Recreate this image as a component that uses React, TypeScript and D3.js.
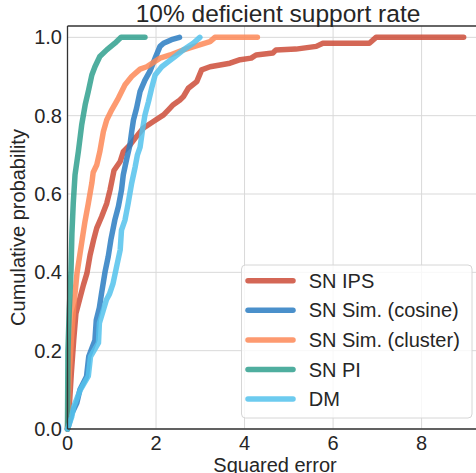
import * as d3 from "d3";

// ECDF points: squared error (x) and cumulative probability (p)
const ipsX = [0, 0.04, 0.086, 0.14, 0.19, 0.29, 0.36, 0.44, 0.51, 0.59, 0.66, 0.77, 0.886, 0.96, 1.05, 1.19, 1.26, 1.41, 1.56, 1.71, 1.94, 2.17, 2.28, 2.39, 2.54, 2.62, 2.73, 2.92, 3.03, 3.22, 3.67, 3.9, 4.15, 4.26, 4.64, 4.71, 5.16, 5.62, 5.77, 6.82, 6.97, 8.95];
const ipsP = [0, 0.057, 0.142, 0.227, 0.295, 0.338, 0.368, 0.398, 0.444, 0.483, 0.513, 0.542, 0.576, 0.61, 0.66, 0.683, 0.708, 0.725, 0.747, 0.768, 0.785, 0.802, 0.815, 0.828, 0.84, 0.849, 0.87, 0.887, 0.917, 0.925, 0.934, 0.943, 0.947, 0.955, 0.96, 0.968, 0.97, 0.977, 0.985, 0.985, 1.0, 1.0];

const cosineX = [0, 0.02, 0.1, 0.21, 0.28, 0.43, 0.48, 0.62, 0.65, 0.72, 0.77, 0.85, 0.92, 0.98, 1.07, 1.15, 1.22, 1.26, 1.34, 1.41, 1.45, 1.49, 1.56, 1.64, 1.75, 1.86, 1.98, 2.09, 2.17, 2.35, 2.53];
const cosineP = [0, 0.006, 0.04, 0.066, 0.1, 0.134, 0.185, 0.227, 0.278, 0.31, 0.347, 0.402, 0.44, 0.483, 0.534, 0.568, 0.61, 0.649, 0.691, 0.725, 0.759, 0.789, 0.819, 0.862, 0.891, 0.913, 0.947, 0.977, 0.985, 0.994, 1.0];

const clusterX = [0, 0.04, 0.086, 0.14, 0.215, 0.33, 0.395, 0.47, 0.55, 0.58, 0.66, 0.73, 0.81, 0.886, 1.0, 1.15, 1.3, 1.45, 1.64, 1.79, 2.09, 2.32, 2.62, 3.22, 3.33, 4.29];
const clusterP = [0, 0.142, 0.227, 0.312, 0.398, 0.483, 0.53, 0.576, 0.628, 0.655, 0.674, 0.708, 0.759, 0.789, 0.815, 0.845, 0.879, 0.9, 0.919, 0.925, 0.947, 0.955, 0.968, 0.989, 1.0, 1.0];

const piX = [0, 0.01, 0.04, 0.08, 0.1, 0.13, 0.17, 0.245, 0.32, 0.4, 0.47, 0.55, 0.62, 0.73, 0.886, 1.07, 1.21, 1.75];
const piP = [0, 0.2, 0.304, 0.406, 0.5, 0.576, 0.649, 0.708, 0.776, 0.828, 0.862, 0.904, 0.925, 0.951, 0.968, 0.985, 1.0, 1.0];

const dmX = [0, 0.02, 0.095, 0.14, 0.29, 0.47, 0.52, 0.7, 0.72, 0.88, 0.95, 1.03, 1.11, 1.19, 1.22, 1.3, 1.37, 1.45, 1.53, 1.58, 1.64, 1.7, 1.75, 1.83, 1.9, 1.98, 2.13, 2.28, 2.43, 2.62, 2.84, 2.99];
const dmP = [0, 0.006, 0.031, 0.057, 0.1, 0.135, 0.185, 0.22, 0.27, 0.33, 0.345, 0.372, 0.415, 0.457, 0.508, 0.534, 0.576, 0.628, 0.67, 0.7, 0.72, 0.768, 0.802, 0.836, 0.87, 0.904, 0.925, 0.938, 0.951, 0.968, 0.985, 1.0];

const seriesNames = ["SN IPS", "SN Sim. (cosine)", "SN Sim. (cluster)", "SN PI", "DM"];
const seriesColors = ["#cc4c38", "#2a7cc2", "#fd8857", "#30a08e", "#54c2ec"];
const xTicks = [0, 2, 4, 6, 8];
const yTicks = [0, 0.2, 0.4, 0.6, 0.8, 1.0];

const width = 476;
const height = 473;
const margin = { left: 67.5, top: 26, right: 488, bottom: 429 };
const font = "'Liberation Sans', Arial, sans-serif";

const App = () => {
  const x = d3.scaleLinear().domain([0, 9.5]).range([margin.left, margin.right]);
  const y = d3.scaleLinear().domain([0, 1.029]).range([margin.bottom, margin.top]);

  const series = [
    { xs: ipsX, ps: ipsP },
    { xs: cosineX, ps: cosineP },
    { xs: clusterX, ps: clusterP },
    { xs: piX, ps: piP },
    { xs: dmX, ps: dmP },
  ];

  const line = d3
    .line<[number, number]>()
    .x((d) => x(d[0]))
    .y((d) => y(d[1]));

  const legendX = 241.5;
  const legendY = 265;
  const rowH = 29.6;

  return (
    <svg
      width={width}
      height={height}
      style={{ position: "absolute", left: 0, top: 0, background: "#fff" }}
      fontFamily={font}
    >
      {/* grid */}
      <g stroke="#d9d9d9" strokeWidth={1}>
        {xTicks.map((t) => (
          <line key={"gx" + t} x1={x(t)} x2={x(t)} y1={margin.top} y2={margin.bottom} />
        ))}
        {yTicks.map((t) => (
          <line key={"gy" + t} x1={margin.left} x2={margin.right} y1={y(t)} y2={y(t)} />
        ))}
      </g>

      {/* curves */}
      <g fill="none" strokeWidth={5.5} strokeLinecap="round" strokeLinejoin="round">
        {series.map((s, i) => (
          <path
            key={seriesNames[i]}
            d={line(s.xs.map((v, j) => [v, s.ps[j]] as [number, number])) as string}
            stroke={seriesColors[i]}
            strokeOpacity={0.85}
          />
        ))}
      </g>

      {/* frame */}
      <g stroke="#333" strokeWidth={1.3}>
        <line x1={margin.left} x2={margin.left} y1={margin.top} y2={margin.bottom} />
        <line x1={margin.left} x2={margin.right} y1={margin.top} y2={margin.top} />
        <line x1={margin.left} x2={margin.right} y1={margin.bottom} y2={margin.bottom} />
      </g>

      {/* ticks */}
      <g fill="#262626" fontSize={20}>
        {xTicks.map((t) => (
          <text key={"tx" + t} x={x(t)} y={450} textAnchor="middle">
            {t}
          </text>
        ))}
        {yTicks.map((t) => (
          <text key={"ty" + t} x={62} y={y(t) + 7} textAnchor="end">
            {t.toFixed(1)}
          </text>
        ))}
      </g>

      {/* labels */}
      <text x={278} y={22} textAnchor="middle" fontSize={24.5} fill="#262626">
        10% deficient support rate
      </text>
      <text x={275} y={472} textAnchor="middle" fontSize={20} fill="#262626">
        Squared error
      </text>
      <text
        transform={`translate(24.5, ${(margin.top + margin.bottom) / 2}) rotate(-90)`}
        textAnchor="middle"
        fontSize={20}
        fill="#262626"
      >
        Cumulative probability
      </text>

      {/* legend */}
      <rect
        x={legendX}
        y={legendY}
        width={230.5}
        height={153}
        rx={4}
        fill="#fff"
        fillOpacity={0.8}
        stroke="#d6d6d6"
      />
      {seriesNames.map((name, i) => {
        const ly = legendY + 15.7 + i * rowH;
        return (
          <g key={"lg" + name}>
            <line
              x1={248}
              x2={293}
              y1={ly}
              y2={ly}
              stroke={seriesColors[i]}
              strokeOpacity={0.85}
              strokeWidth={5.5}
              strokeLinecap="round"
            />
            <text x={308.7} y={ly + 7} fontSize={20} fill="#262626">
              {name}
            </text>
          </g>
        );
      })}
    </svg>
  );
};

export default App;
